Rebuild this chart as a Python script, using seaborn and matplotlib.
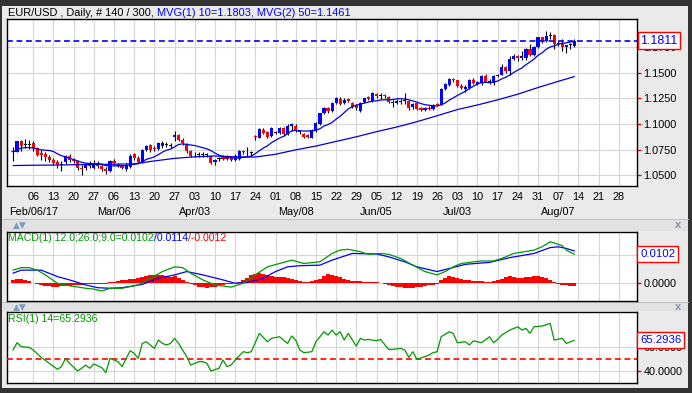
import numpy as np
import pandas as pd
import seaborn as sns
import matplotlib
matplotlib.use("Agg")
from matplotlib import pyplot as plt
from matplotlib.patches import Rectangle

# EUR/USD daily bars, 30 Jan 2017 .. 11 Aug 2017 (trading-day index 0..139)
opens = [1.0735, 1.0730, 1.0830, 1.0800, 1.0800, 1.0810, 1.0765, 1.0720, 1.0705, 1.0680,
         1.0650, 1.0625, 1.0600, 1.0625, 1.0690, 1.0650, 1.0635, 1.0575, 1.0575, 1.0610,
         1.0570, 1.0610, 1.0590, 1.0565, 1.0540, 1.0640, 1.0605, 1.0590, 1.0560, 1.0585,
         1.0705, 1.0670, 1.0630, 1.0750, 1.0795, 1.0770, 1.0755, 1.0785, 1.0800, 1.0790,
         1.0870, 1.0890, 1.0845, 1.0800, 1.0735, 1.0705, 1.0700, 1.0700, 1.0700, 1.0685,
         1.0625, 1.0655, 1.0685, 1.0690, 1.0670, 1.0650, 1.0660, 1.0738, 1.0734, 1.0720,
         1.0880, 1.0865, 1.0945, 1.0920, 1.0885, 1.0915, 1.0915, 1.0960, 1.0900, 1.0980,
         1.0985, 1.0920, 1.0905, 1.0895, 1.0865, 1.0930, 1.0995, 1.1105, 1.1160, 1.1130,
         1.1200, 1.1245, 1.1205, 1.1240, 1.1200, 1.1185, 1.1125, 1.1210, 1.1265, 1.1220,
         1.1290, 1.1275, 1.1283, 1.1265, 1.1205, 1.1200, 1.1218, 1.1220, 1.1220, 1.1165,
         1.1205, 1.1155, 1.1135, 1.1160, 1.1150, 1.1195, 1.1185, 1.1340, 1.1380, 1.1440,
         1.1425, 1.1365, 1.1345, 1.1355, 1.1424, 1.1390, 1.1397, 1.1465, 1.1413, 1.1397,
         1.1469, 1.1478, 1.1557, 1.1517, 1.1635, 1.1664, 1.1643, 1.1647, 1.1730, 1.1676,
         1.1754, 1.1843, 1.1803, 1.1861, 1.1870, 1.1774, 1.1791, 1.1754, 1.1767, 1.1762]
highs = [1.0775, 1.0838, 1.0840, 1.0855, 1.0845, 1.0830, 1.0780, 1.0745, 1.0725, 1.0700,
         1.0665, 1.0645, 1.0635, 1.0700, 1.0705, 1.0668, 1.0650, 1.0600, 1.0620, 1.0635,
         1.0645, 1.0635, 1.0615, 1.0585, 1.0650, 1.0660, 1.0620, 1.0605, 1.0620, 1.0710,
         1.0720, 1.0690, 1.0760, 1.0800, 1.0805, 1.0785, 1.0825, 1.0830, 1.0825, 1.0815,
         1.0935, 1.0900, 1.0860, 1.0815, 1.0750, 1.0725, 1.0725, 1.0725, 1.0720, 1.0700,
         1.0660, 1.0680, 1.0700, 1.0700, 1.0690, 1.0705, 1.0750, 1.0750, 1.0780, 1.0735,
         1.0895, 1.0960, 1.0960, 1.0930, 1.0970, 1.0930, 1.0975, 1.0975, 1.0995, 1.1010,
         1.0995, 1.0935, 1.0915, 1.0905, 1.0955, 1.1015, 1.1110, 1.1170, 1.1170, 1.1215,
         1.1265, 1.1265, 1.1250, 1.1250, 1.1215, 1.1195, 1.1210, 1.1255, 1.1275, 1.1310,
         1.1300, 1.1300, 1.1295, 1.1270, 1.1235, 1.1240, 1.1240, 1.1300, 1.1230, 1.1205,
         1.1215, 1.1165, 1.1170, 1.1175, 1.1190, 1.1205, 1.1350, 1.1395, 1.1450, 1.1450,
         1.1430, 1.1385, 1.1375, 1.1435, 1.1445, 1.1420, 1.1480, 1.1490, 1.1440, 1.1475,
         1.1490, 1.1583, 1.1560, 1.1658, 1.1680, 1.1670, 1.1712, 1.1735, 1.1777, 1.1760,
         1.1846, 1.1845, 1.1910, 1.1893, 1.1872, 1.1805, 1.1828, 1.1773, 1.1788, 1.1824]
lows = [1.0635, 1.0725, 1.0740, 1.0765, 1.0760, 1.0735, 1.0690, 1.0650, 1.0640, 1.0630,
        1.0605, 1.0570, 1.0540, 1.0610, 1.0630, 1.0620, 1.0555, 1.0505, 1.0555, 1.0570,
        1.0565, 1.0570, 1.0540, 1.0515, 1.0530, 1.0600, 1.0580, 1.0560, 1.0545, 1.0570,
        1.0650, 1.0620, 1.0620, 1.0740, 1.0730, 1.0740, 1.0745, 1.0770, 1.0780, 1.0770,
        1.0835, 1.0835, 1.0800, 1.0720, 1.0675, 1.0675, 1.0680, 1.0675, 1.0680, 1.0610,
        1.0600, 1.0640, 1.0650, 1.0650, 1.0635, 1.0640, 1.0650, 1.0705, 1.0685, 1.0690,
        1.0840, 1.0860, 1.0900, 1.0860, 1.0875, 1.0900, 1.0905, 1.0885, 1.0890, 1.0930,
        1.0920, 1.0905, 1.0865, 1.0860, 1.0860, 1.0925, 1.0990, 1.1095, 1.1110, 1.1120,
        1.1190, 1.1185, 1.1195, 1.1210, 1.1155, 1.1140, 1.1115, 1.1200, 1.1230, 1.1215,
        1.1255, 1.1240, 1.1255, 1.1200, 1.1170, 1.1190, 1.1190, 1.1190, 1.1140, 1.1150,
        1.1140, 1.1125, 1.1125, 1.1140, 1.1140, 1.1175, 1.1180, 1.1330, 1.1370, 1.1410,
        1.1360, 1.1340, 1.1312, 1.1345, 1.1390, 1.1375, 1.1380, 1.1405, 1.1390, 1.1375,
        1.1455, 1.1475, 1.1500, 1.1480, 1.1625, 1.1610, 1.1620, 1.1625, 1.1660, 1.1660,
        1.1740, 1.1790, 1.1795, 1.1830, 1.1730, 1.1755, 1.1712, 1.1688, 1.1728, 1.1745]
closes = [1.0725, 1.0830, 1.0785, 1.0798, 1.0797, 1.0765, 1.0700, 1.0700, 1.0675, 1.0650,
          1.0620, 1.0605, 1.0602, 1.0690, 1.0650, 1.0635, 1.0570, 1.0565, 1.0605, 1.0595,
          1.0620, 1.0595, 1.0560, 1.0540, 1.0640, 1.0620, 1.0590, 1.0575, 1.0605, 1.0690,
          1.0665, 1.0630, 1.0750, 1.0790, 1.0745, 1.0755, 1.0810, 1.0815, 1.0802, 1.0792,
          1.0895, 1.0845, 1.0815, 1.0735, 1.0690, 1.0703, 1.0702, 1.0701, 1.0702, 1.0620,
          1.0645, 1.0657, 1.0655, 1.0660, 1.0650, 1.0690, 1.0740, 1.0730, 1.0732, 1.0722,
          1.0875, 1.0950, 1.0915, 1.0870, 1.0960, 1.0917, 1.0960, 1.0900, 1.0985, 1.0995,
          1.0930, 1.0921, 1.0875, 1.0875, 1.0945, 1.1010, 1.1105, 1.1160, 1.1125, 1.1205,
          1.1250, 1.1195, 1.1235, 1.1228, 1.1170, 1.1155, 1.1205, 1.1250, 1.1240, 1.1300,
          1.1268, 1.1276, 1.1268, 1.1210, 1.1206, 1.1225, 1.1219, 1.1221, 1.1155, 1.1195,
          1.1150, 1.1135, 1.1160, 1.1150, 1.1180, 1.1185, 1.1340, 1.1385, 1.1440, 1.1425,
          1.1365, 1.1348, 1.1360, 1.1424, 1.1400, 1.1410, 1.1465, 1.1413, 1.1411, 1.1469,
          1.1480, 1.1557, 1.1517, 1.1635, 1.1664, 1.1643, 1.1660, 1.1730, 1.1676, 1.1754,
          1.1843, 1.1803, 1.1861, 1.1870, 1.1774, 1.1791, 1.1754, 1.1767, 1.1765, 1.1811]

# MVG(1) 10, one value per bar
ma10 = [1.0725, 1.0750, 1.0765, 1.0770, 1.0770, 1.0765, 1.0755, 1.0748, 1.0744, 1.0742,
        1.0732, 1.0709, 1.0691, 1.0680, 1.0666, 1.0653, 1.0640, 1.0626, 1.0619, 1.0614,
        1.0614, 1.0613, 1.0609, 1.0594, 1.0593, 1.0591, 1.0593, 1.0594, 1.0594, 1.0604,
        1.0608, 1.0612, 1.0631, 1.0656, 1.0666, 1.0680, 1.0702, 1.0726, 1.0745, 1.0755,
        1.0778, 1.0800, 1.0806, 1.0801, 1.0795, 1.0790, 1.0779, 1.0768, 1.0758, 1.0741,
        1.0716, 1.0697, 1.0681, 1.0674, 1.0670, 1.0668, 1.0672, 1.0675, 1.0678, 1.0688,
        1.0711, 1.0740, 1.0766, 1.0787, 1.0818, 1.0841, 1.0863, 1.0880, 1.0905, 1.0933,
        1.0938, 1.0935, 1.0931, 1.0932, 1.0930, 1.0940, 1.0954, 1.0980, 1.0994, 1.1015,
        1.1047, 1.1075, 1.1111, 1.1146, 1.1168, 1.1183, 1.1193, 1.1202, 1.1213, 1.1223,
        1.1225, 1.1233, 1.1236, 1.1234, 1.1238, 1.1245, 1.1246, 1.1243, 1.1235, 1.1224,
        1.1213, 1.1198, 1.1188, 1.1182, 1.1179, 1.1175, 1.1187, 1.1204, 1.1232, 1.1255,
        1.1277, 1.1298, 1.1318, 1.1345, 1.1367, 1.1390, 1.1402, 1.1405, 1.1402, 1.1407,
        1.1418, 1.1439, 1.1455, 1.1476, 1.1502, 1.1525, 1.1545, 1.1577, 1.1603, 1.1632,
        1.1668, 1.1693, 1.1727, 1.1750, 1.1761, 1.1776, 1.1786, 1.1789, 1.1798, 1.1803]

# MVG(2) 50
ma50_idx = [0, 5, 10, 15, 20, 25, 30, 35, 40, 45, 50, 55, 60, 65, 70,
            75, 80, 85, 90, 95, 100, 105, 110, 115, 120, 125, 130, 135, 139]
ma50 = [1.0595, 1.0598, 1.0600, 1.0603, 1.0605, 1.0608, 1.0612, 1.0640, 1.0665, 1.0680,
        1.0688, 1.0680, 1.0678, 1.0705, 1.0748, 1.0785, 1.0830, 1.0875, 1.0925, 1.0970,
        1.1022, 1.1080, 1.1140, 1.1185, 1.1235, 1.1290, 1.1355, 1.1415, 1.1461]

# MACD(12,26,9)
macd_idx = [0, 2, 4, 6, 8, 11, 14, 18, 20, 22, 24, 27, 31, 34, 37, 40, 42, 44, 47, 50,
            54, 57, 60, 63, 66, 69, 72, 76, 79, 81, 83, 86, 88, 91, 93, 96, 99, 102, 105,
            107, 109, 111, 114, 116, 119, 121, 124, 129, 131, 133, 136, 137, 139]
macd = [0.0045, 0.0054, 0.0054, 0.0045, 0.0028, -0.0002, -0.0011, -0.0020, -0.0023, -0.0030,
        -0.0020, -0.0020, -0.0008, 0.0016, 0.0040, 0.0057, 0.0054, 0.0034, 0.0010, -0.0008,
        -0.0016, -0.0002, 0.0028, 0.0057, 0.0069, 0.0081, 0.0069, 0.0075, 0.0105, 0.0117,
        0.0120, 0.0111, 0.0102, 0.0105, 0.0102, 0.0087, 0.0063, 0.0040, 0.0028,
        0.0040, 0.0057, 0.0069, 0.0075, 0.0078, 0.0078, 0.0087, 0.0105, 0.0117, 0.0129,
        0.0147, 0.0133, 0.0117, 0.0102]
signal_idx = [0, 2, 7, 11, 14, 18, 21, 24, 27, 32, 36, 40, 43, 47, 52, 55, 58, 62, 65,
              68, 71, 76, 79, 84, 90, 93, 97, 100, 105, 108, 112, 118, 123, 129, 133,
              135, 137, 139]
signal = [0.0034, 0.0045, 0.0045, 0.0022, 0.0010, -0.0008, -0.0018, -0.0020, -0.0018,
          -0.0006, 0.0016, 0.0028, 0.0040, 0.0028, 0.0010, -0.0002, 0.0001, 0.0016, 0.0040,
          0.0057, 0.0061, 0.0063, 0.0081, 0.0105, 0.0103, 0.0093, 0.0075, 0.0057, 0.0040,
          0.0051, 0.0066, 0.0073, 0.0090, 0.0105, 0.0126, 0.0129, 0.0123, 0.0114]
hist = [0.0010, 0.0012, 0.0012, 0.0010, 0.0006, 0.0000, -0.0004, -0.0008, -0.0011, -0.0013,
        -0.0014, -0.0014, -0.0013, -0.0012, -0.0012, -0.0010, -0.0009, -0.0008, -0.0006, -0.0005,
        -0.0004, -0.0005, -0.0006, -0.0004, 0.0002, 0.0004, 0.0006, 0.0008, 0.0010, 0.0012,
        0.0014, 0.0018, 0.0022, 0.0025, 0.0027, 0.0028, 0.0028, 0.0026, 0.0024, 0.0022,
        0.0024, 0.0018, 0.0010, 0.0002, -0.0005, -0.0010, -0.0014, -0.0017, -0.0018, -0.0017,
        -0.0014, -0.0011, -0.0008, -0.0006, -0.0004, 0.0000, 0.0004, 0.0008, 0.0018, 0.0028,
        0.0033, 0.0034, 0.0030, 0.0026, 0.0024, 0.0022, 0.0022, 0.0020, 0.0016, 0.0014,
        0.0010, 0.0006, 0.0004, 0.0004, 0.0006, 0.0008, 0.0014, 0.0024, 0.0030, 0.0028,
        0.0024, 0.0020, 0.0014, 0.0010, 0.0006, 0.0005, 0.0005, 0.0004, 0.0004, 0.0003,
        0.0002, 0.0000, -0.0004, -0.0008, -0.0012, -0.0015, -0.0017, -0.0019, -0.0020, -0.0019,
        -0.0017, -0.0015, -0.0012, -0.0010, -0.0008, -0.0004, 0.0008, 0.0018, 0.0024, 0.0022,
        0.0018, 0.0014, 0.0010, 0.0008, 0.0006, 0.0006, 0.0005, 0.0004, 0.0004, 0.0005,
        0.0008, 0.0014, 0.0020, 0.0024, 0.0022, 0.0018, 0.0016, 0.0020, 0.0022, 0.0024,
        0.0025, 0.0022, 0.0018, 0.0010, 0.0002, -0.0004, -0.0007, -0.0009, -0.0011, -0.0012]

# RSI(14)
rsi_idx = [0, 1, 2, 4, 5, 7, 9, 11, 12, 13, 14, 16, 17, 18, 19, 20, 22, 23, 24, 26,
           27, 29, 30, 31, 32, 33, 35, 36, 37, 38, 39, 40, 41, 43, 44, 46, 47, 48, 49, 51,
           52, 53, 54, 55, 57, 58, 59, 61, 63, 64, 66, 68, 69, 70, 71, 72, 74, 75, 77, 78,
           79, 80, 81, 82, 83, 85, 86, 87, 88, 90, 91, 93, 94, 96, 97, 98, 99, 100, 102, 103,
           104, 105, 106, 108, 109, 110, 112, 113, 114, 116, 118, 119, 120, 121, 123, 125, 126, 127, 128, 129,
           131, 133, 134, 136, 137, 138, 139]
rsi = [57.3, 63.3, 60.0, 59.5, 57.3, 51.2, 46.3, 41.4, 43.6, 50.4, 46.3, 40.0, 42.2, 44.9, 42.2, 45.8, 42.7, 38.6, 50.4, 47.7,
       43.6, 56.7, 54.5, 50.4, 62.7, 64.1, 58.6, 65.5, 62.7, 61.4, 62.7, 66.9, 62.7, 51.8, 44.9, 47.7, 47.7, 46.3, 40.0, 42.2,
       49.0, 43.6, 44.9, 49.0, 55.9, 55.1, 55.9, 71.0, 64.1, 66.9, 68.2, 62.7, 68.8, 65.5, 57.3, 55.1, 55.9, 64.1, 72.3, 69.6,
       73.7, 69.6, 72.3, 65.5, 71.0, 60.5, 66.9, 65.5, 66.0, 64.9, 66.0, 57.8, 57.8, 58.6, 57.3, 51.2, 55.9, 49.6, 51.8, 53.2,
       55.1, 55.9, 68.2, 72.3, 71.0, 63.3, 64.1, 61.4, 64.9, 63.3, 68.2, 63.3, 66.0, 69.6, 73.7, 76.4, 73.7, 75.1, 71.0, 76.4,
       77.0, 79.2, 65.5, 66.9, 62.7, 64.1, 65.29]

day_labels = ["06", "13", "20", "27", "06", "13", "20", "27", "03", "10", "17", "24", "01", "08", "15",
              "22", "29", "05", "12", "19", "26", "03", "10", "17", "24", "31", "07", "14", "21", "28"]
month_labels = ["Feb/06/17", "Mar/06", "Apr/03", "May/08", "Jun/05", "Jul/03", "Aug/07"]
month_at = [5, 25, 45, 70, 90, 110, 135]
price_ticks = [1.05, 1.075, 1.10, 1.125, 1.15, 1.175]

df = pd.DataFrame({"open": opens, "high": highs, "low": lows, "close": closes, "ma10": ma10})
df["idx"] = np.arange(len(df))

sns.set_style("white")
plt.rcParams["font.family"] = ["Liberation Sans", "DejaVu Sans"]

W, H = 692, 393
fig = plt.figure(figsize=(W / 100, H / 100), dpi=100)
fig.patch.set_facecolor("#EAEAEA")


def box(x0, y0, x1, y1):
    return [x0 / W, 1 - y1 / H, (x1 - x0) / W, (y1 - y0) / H]


# background decorations in pixel coordinates
bg = fig.add_axes([0, 0, 1, 1], zorder=-10)
bg.set_xlim(0, W)
bg.set_ylim(H, 0)
bg.axis("off")
frame = "#333333"
for r in [(0, 0, W, 6), (0, 0, 2, H), (W - 4, 0, 4, H), (0, H - 5, W, 5)]:
    bg.add_patch(Rectangle((r[0], r[1]), r[2], r[3], color=frame, lw=0))
for y0, y1 in [(219, 231), (302, 311)]:
    bg.add_patch(Rectangle((2, y0), W - 6, y1 - y0, color="#E2E2E2", lw=0))
    bg.plot([2, W - 4], [y0, y0], color="#C4C4C4", lw=0.8)

xlim = (-1.49, 154.5)
ticks = np.arange(5, 5 * (len(day_labels) + 1), 5)
grid_c = "#D6D6D6"

ax = fig.add_axes(box(7, 19, 637, 186))
ax_m = fig.add_axes(box(7, 232, 637, 301))
ax_r = fig.add_axes(box(7, 312, 637, 383))

# ---- price panel
up = df["close"] > df["open"] + 0.0003
dn = df["close"] < df["open"] - 0.0003
cols = np.where(up, "#0000FF", np.where(dn, "#FF0000", "#000000"))
ax.vlines(df["idx"], df["low"], df["high"], color="black", lw=0.8, zorder=3)
body_lo = np.minimum(df["open"], df["close"])
body_h = np.maximum((df["close"] - df["open"]).abs(), 0.0009)
ax.bar(df["idx"], body_h, bottom=body_lo, width=0.78, color=cols, lw=0, zorder=4)
sns.lineplot(data=df, x="idx", y="ma10", ax=ax, color="#0000DD", lw=0.9, zorder=5)
sns.lineplot(x=ma50_idx, y=ma50, ax=ax, color="#0000DD", lw=0.9, zorder=5)
last = closes[-1]
ax.axhline(last, color="#0000FF", lw=1.2, ls=(0, (3.5, 2.2)), zorder=6)

ax.set_xlim(*xlim)
ax.set_ylim(1.0396, 1.2022)
ax.set_xticks(ticks)
ax.set_xticklabels(day_labels)
ax.yaxis.tick_right()
ax.set_yticks(price_ticks)
ax.set_yticklabels([f"{v:.4f}" for v in price_ticks])
ax.tick_params(axis="x", color="red", labelcolor="black", length=2.5, width=1, pad=1.5, labelsize=7.8)
ax.tick_params(axis="y", color="red", labelcolor="black", length=3, width=1, pad=1.5, labelsize=7.8)
for i, lab in zip(month_at, month_labels):
    ax.text(i, -0.156, lab, transform=ax.get_xaxis_transform(), ha="center", va="center",
            fontsize=7.8, color="black")
ax.text(1.005, last, f"{last:.4f}", transform=ax.get_yaxis_transform(), ha="left", va="center",
        fontsize=9, color="#0000FF", zorder=10, clip_on=False,
        bbox=dict(boxstyle="square,pad=0.2", fc="white", ec="red", lw=1))

# ---- MACD panel
ax_m.bar(np.arange(len(hist)), hist, width=1.0, color="#FF0000", lw=0, zorder=3)
sns.lineplot(x=signal_idx, y=signal, ax=ax_m, color="#0000FF", lw=0.9, zorder=4)
sns.lineplot(x=macd_idx, y=macd, ax=ax_m, color="#009900", lw=0.9, zorder=5)
ax_m.set_xlim(*xlim)
ax_m.set_ylim(-0.00657, 0.0182)
ax_m.set_xticks(ticks)
ax_m.set_xticklabels([])
ax_m.yaxis.tick_right()
ax_m.set_yticks([0.0, 0.01])
ax_m.set_yticklabels(["0.0000", ""])
ax_m.tick_params(axis="x", length=0)
ax_m.tick_params(axis="y", color="red", labelcolor="black", length=3, width=1, pad=1.5, labelsize=7.8)
ax_m.text(1.005, macd[-1], f"{macd[-1]:.4f}", transform=ax_m.get_yaxis_transform(), ha="left",
          va="center", fontsize=8.2, color="#0000FF", zorder=10, clip_on=False,
          bbox=dict(boxstyle="square,pad=0.25", fc="white", ec="red", lw=1))

# ---- RSI panel
ax_r.axhline(50, color="#FF0000", lw=1.2, ls=(0, (3.5, 2.2)), zorder=3)
sns.lineplot(x=rsi_idx, y=rsi, ax=ax_r, color="#009900", lw=0.9, zorder=4)
ax_r.set_xlim(*xlim)
ax_r.set_ylim(30.1, 88.6)
ax_r.set_xticks(ticks)
ax_r.set_xticklabels([])
ax_r.yaxis.tick_right()
ax_r.set_yticks([40, 60])
ax_r.set_yticklabels(["40.0000", "60.0000"])
ax_r.tick_params(axis="x", length=0)
ax_r.tick_params(axis="y", color="red", labelcolor="black", length=3, width=1, pad=1.5, labelsize=7.8)
ax_r.text(1.005, rsi[-1], "65.2936", transform=ax_r.get_yaxis_transform(), ha="left",
          va="center", fontsize=8.2, color="#0000FF", zorder=10, clip_on=False,
          bbox=dict(boxstyle="square,pad=0.25", fc="white", ec="red", lw=1))

for a in (ax, ax_m, ax_r):
    a.set_facecolor("white")
    a.set_xlabel("")
    a.set_ylabel("")
    a.set_axisbelow(True)
    a.grid(True, color=grid_c, lw=0.8)
    for s in a.spines.values():
        s.set_color("black")
        s.set_linewidth(1.0)
        s.set_visible(True)

# ---- texts
renderer = fig.canvas.get_renderer()


def seg_text(x, y, parts, size):
    for s, c in parts:
        t = fig.text(x / W, 1 - y / H, s, color=c, fontsize=size, ha="left", va="center")
        x += t.get_window_extent(renderer=renderer).width


seg_text(8, 12.5, [("EUR/USD , Daily, # 140 / 300,", "black"),
                   (f" MVG(1) 10={ma10[-1]:.4f}, MVG(2) 50={ma50[-1]:.4f}", "#0000FF")], 7.9)
seg_text(8, 238.5, [("MACD(1) 12.0;26.0;9.0=0.0102", "#009900"), ("/0.0114", "#0000FF"),
                    ("/-0.0012", "#FF0000")], 7.6)
seg_text(8, 319.5, [("RSI(1) 14=65.2936", "#009900")], 7.6)

for yc in (225, 307):
    fig.text(13 / W, 1 - yc / H, "\u25B2\u25BC", color="#7F9CC4", fontsize=6.5,
             ha="left", va="center", family="DejaVu Sans")
    fig.text(678 / W, 1 - yc / H, "x", color="#8393B0", fontsize=8, fontweight="bold",
             ha="center", va="center")

fig.savefig("out.png", dpi=100, facecolor=fig.get_facecolor())
